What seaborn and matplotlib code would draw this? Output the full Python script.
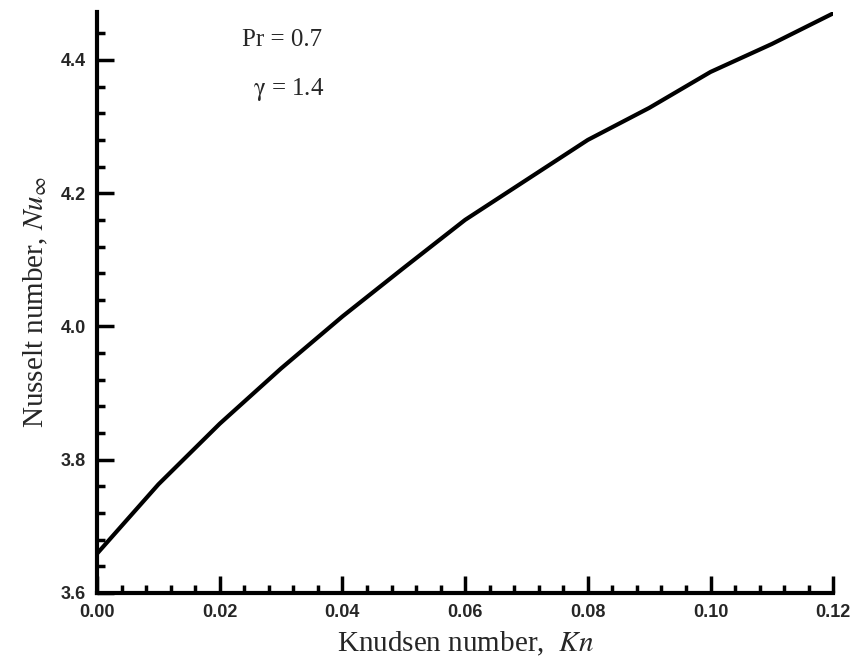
import numpy as np
import pandas as pd
import seaborn as sns
import matplotlib.pyplot as plt
from matplotlib.ticker import MultipleLocator

# Knudsen number vs Nusselt number (Pr = 0.7, gamma = 1.4)
kn = [0.0, 0.01, 0.02, 0.03, 0.04, 0.05, 0.06, 0.07, 0.08, 0.09, 0.10, 0.11, 0.12]
nu = [3.659, 3.763, 3.854, 3.937, 4.015, 4.088, 4.160, 4.220, 4.280, 4.328, 4.382, 4.424, 4.470]

df = pd.DataFrame({"Kn": kn, "Nu": nu})

sns.set_theme(style="ticks")
plt.rcParams['font.family'] = ['Liberation Serif', 'DejaVu Serif']
plt.rcParams['mathtext.fontset'] = 'stix'

fig = plt.figure(figsize=(8.55, 6.67), dpi=100)
ax = fig.add_axes([0.1135, 0.111, 0.861, 0.871])

sns.lineplot(data=df, x="Kn", y="Nu", color="black", linewidth=3, ax=ax)

ax.set_xlim(0, 0.12)
ax.set_ylim(3.6, 4.472)
ax.xaxis.set_major_locator(MultipleLocator(0.02))
ax.xaxis.set_minor_locator(MultipleLocator(0.004))
ax.yaxis.set_major_locator(MultipleLocator(0.2))
ax.yaxis.set_minor_locator(MultipleLocator(0.04))

sns.despine(ax=ax)
for s in ["left", "bottom"]:
    ax.spines[s].set_linewidth(3)
    ax.spines[s].set_color("black")

ax.tick_params(which="major", direction="in", length=12, width=2.5, color="black", pad=8)
ax.tick_params(which="minor", direction="in", length=6, width=2.5, color="black")

ax.set_xticklabels([f"{v:.2f}" for v in ax.get_xticks()])
ax.set_yticklabels([f"{v:.1f}" for v in ax.get_yticks()])
for lab in ax.get_xticklabels() + ax.get_yticklabels():
    lab.set_family("Liberation Sans")
    lab.set_fontweight("bold")
    lab.set_fontsize(13)

ax.set_xlabel("Knudsen number,  $Kn$", fontsize=21, labelpad=6)
ax.set_ylabel("Nusselt number, $Nu_{\\infty}$", fontsize=21, labelpad=8)

ax.text(0.0236, 4.43, "Pr = 0.7", fontsize=18, ha="left", va="center")
ax.text(0.0254, 4.355, "$\\mathrm{\\gamma}$ = 1.4", fontsize=18, ha="left", va="center")

plt.savefig("out.png", dpi=100)
